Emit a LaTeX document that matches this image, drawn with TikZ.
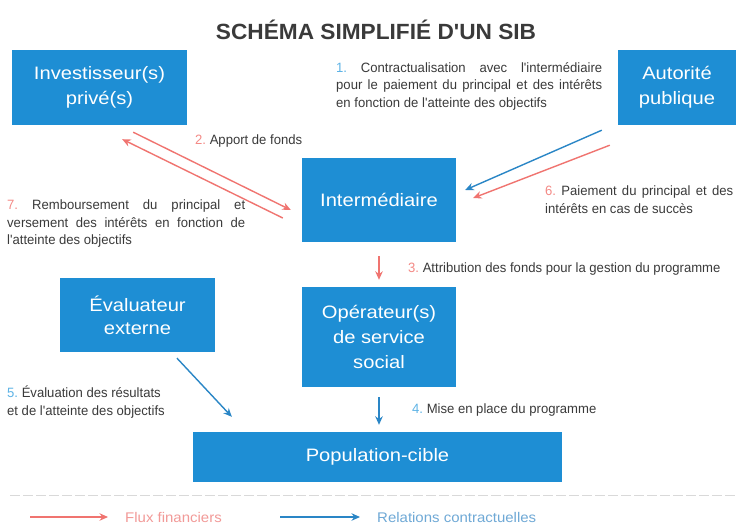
\documentclass[tikz,border=0pt]{standalone}
\usepackage{fontspec}
\setmainfont{Liberation Sans}
\newfontfamily\lblfont[FakeStretch=0.97]{Liberation Sans}
\newfontfamily\ttlfont[FakeStretch=1.03]{Liberation Sans}
\newfontfamily\boxfont[FakeStretch=1.12]{Liberation Sans}
\newfontfamily\lgdfont[FakeStretch=1.07]{Liberation Sans}
\usetikzlibrary{arrows.meta}
\frenchspacing
\definecolor{boxblue}{HTML}{1E8ED4}
\definecolor{arrred}{HTML}{F07470}
\definecolor{arrblue}{HTML}{2A86C6}
\definecolor{numblue}{HTML}{5DB3E6}
\definecolor{numred}{HTML}{F48A86}
\definecolor{txtgray}{HTML}{3A3A3A}
\definecolor{lgred}{HTML}{F29A98}
\definecolor{lgblue}{HTML}{6FA9D6}
\tikzset{
  box/.style={fill=boxblue, text=white, font=\boxfont\fontsize{18}{25}\selectfont, align=center, inner sep=0pt},
  redarr/.style={draw=arrred, line width=1.4pt, -{Stealth[length=8.5pt,width=7.5pt]}},
  bluearr/.style={draw=arrblue, line width=1.4pt, -{Stealth[length=8.5pt,width=7.5pt]}},
  lbl/.style={font=\lblfont\frenchspacing\fontsize{13.5}{17.5}\selectfont, text=txtgray, inner sep=0pt},
  lgd/.style={font=\lgdfont\fontsize{14}{16}\selectfont, inner sep=0pt, anchor=west},
}
\begin{document}
\begin{tikzpicture}[x=1pt,y=-1pt]
\useasboundingbox (0,0) rectangle (736,525);
\fill[white] (0,0) rectangle (736,525);
% title
\node[font=\ttlfont\bfseries\fontsize{22}{26}\selectfont, text=txtgray] (title) at (376,30) {SCHÉMA SIMPLIFIÉ D'UN SIB};
% boxes
\node[box, minimum width=175pt, minimum height=75pt] (inv) at (99.5,87.5) {Investisseur(s)\\privé(s)};
\node[box, minimum width=118pt, minimum height=75pt] (aut) at (677,87.5) {Autorité\\publique};
\node[box, minimum width=154pt, minimum height=84pt] (int) at (379,200) {Intermédiaire};
\node[box, minimum width=154pt, minimum height=100pt] (op) at (379,337) {Opérateur(s)\\de service\\social};
\node[box, minimum width=155pt, minimum height=74pt, font=\boxfont\fontsize{18}{23}\selectfont] (eva) at (137.5,315) {Évaluateur\\externe};
\node[box, minimum width=369pt, minimum height=50pt] (pop) at (377.5,457) {Population-cible};
% labels
\node[lbl, anchor=north west, text width=266pt, align=justify] (l1) at (336,62) {\textcolor{numblue}{1.} Contractualisation avec l'intermédiaire\linebreak pour le paiement du principal et des intérêts\linebreak en fonction de l'atteinte des objectifs};
\node[lbl, anchor=west] (l2) at (195,141) {\textcolor{numred}{2.} Apport de fonds};
\node[lbl, anchor=north west, text width=238pt, align=justify] (l7) at (7,200) {\textcolor{numred}{7.} Remboursement du principal et\linebreak versement des intérêts en fonction de\linebreak l'atteinte des objectifs};
\node[lbl, anchor=north west, text width=188pt, align=justify] (l6) at (545,186) {\textcolor{numred}{6.} Paiement du principal et des\linebreak intérêts en cas de succès};
\node[lbl, anchor=west] (l3) at (408,269) {\textcolor{numred}{3.} Attribution des fonds pour la gestion du programme};
\node[lbl, anchor=west] (l4) at (412,410) {\textcolor{numblue}{4.} Mise en place du programme};
\node[lbl, anchor=north west, align=left] (l5) at (7,386) {\textcolor{numblue}{5.} Évaluation des résultats\\et de l'atteinte des objectifs};
% arrows
\draw[redarr] ([xshift=-54pt,yshift=-7pt]inv.south east) -- ([xshift=-11pt,yshift=-10pt]int.west);
\draw[redarr] ([xshift=-19pt,yshift=-18pt]int.west) -- ([xshift=-65pt,yshift=-14pt]inv.south east);
\draw[bluearr] ([xshift=-16pt,yshift=-5pt]aut.south west) -- ([xshift=9pt,yshift=10pt]int.east);
\draw[redarr] ([xshift=-8pt,yshift=-20pt]aut.south west) -- ([xshift=17pt,yshift=2pt]int.east);
\draw[redarr] ([yshift=-14pt]int.south) -- ([yshift=7pt]op.north);
\draw[bluearr] ([yshift=-10pt]op.south) -- ([yshift=7pt]op.south |- pop.north);
\draw[bluearr] ([xshift=39.5pt,yshift=-6pt]eva.south) -- ([xshift=39pt,yshift=15pt]pop.north west);
% separator
\draw[gray!30, line width=0.8pt, dash pattern=on 10pt off 3pt] (10,495) -- (736,495);
% legend
\coordinate (lr1) at (30,517);
\coordinate (lr2) at (108,517);
\coordinate (lb1) at (280,517);
\coordinate (lb2) at (360,517);
\draw[redarr] (lr1) -- (lr2);
\draw[bluearr] (lb1) -- (lb2);
\node[lgd, text=lgred] (lgr) at (125,517) {Flux financiers};
\node[lgd, text=lgblue] (lgb) at (377,517) {Relations contractuelles};
\end{tikzpicture}
\end{document}
